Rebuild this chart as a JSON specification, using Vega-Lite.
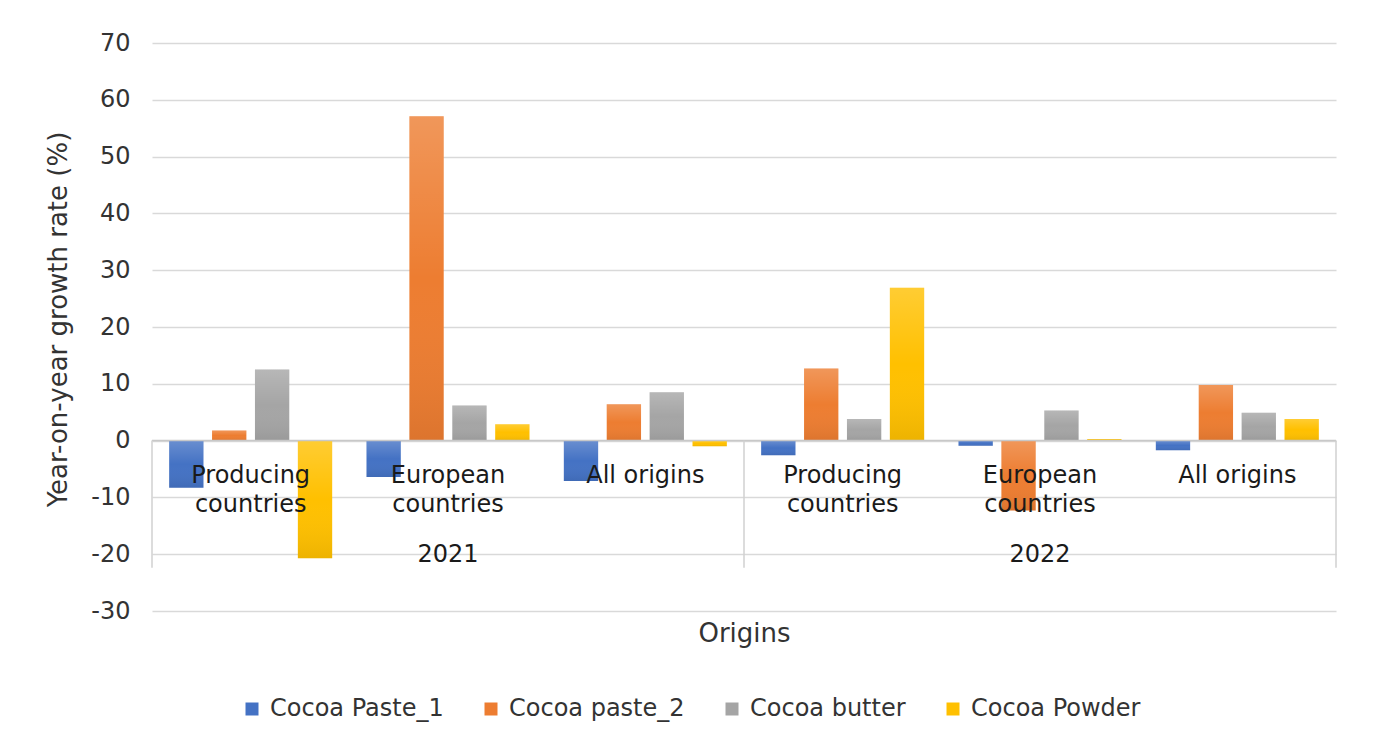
{
  "$schema": "https://vega.github.io/schema/vega-lite/v6.json",
  "width": 1184,
  "height": 568,
  "autosize": {"type": "none"},
  "padding": {"left": 152, "top": 43, "right": 37, "bottom": 136},
  "background": "white",
  "config": {
    "view": {"stroke": null},
    "font": "DejaVu Sans",
    "axis": {"labelFont": "DejaVu Sans", "titleFont": "DejaVu Sans"},
    "legend": {"labelFont": "DejaVu Sans"}
  },
  "datasets": {
    "bars": [
      {"cat": "2021|Producing countries", "series": "Cocoa Paste_1", "value": -8.3},
      {"cat": "2021|Producing countries", "series": "Cocoa paste_2", "value": 1.8},
      {"cat": "2021|Producing countries", "series": "Cocoa butter", "value": 12.5},
      {"cat": "2021|Producing countries", "series": "Cocoa Powder", "value": -20.7},
      {"cat": "2021|European countries", "series": "Cocoa Paste_1", "value": -6.4},
      {"cat": "2021|European countries", "series": "Cocoa paste_2", "value": 57.1},
      {"cat": "2021|European countries", "series": "Cocoa butter", "value": 6.2},
      {"cat": "2021|European countries", "series": "Cocoa Powder", "value": 2.9},
      {"cat": "2021|All origins", "series": "Cocoa Paste_1", "value": -7.1},
      {"cat": "2021|All origins", "series": "Cocoa paste_2", "value": 6.4},
      {"cat": "2021|All origins", "series": "Cocoa butter", "value": 8.5},
      {"cat": "2021|All origins", "series": "Cocoa Powder", "value": -1.0},
      {"cat": "2022|Producing countries", "series": "Cocoa Paste_1", "value": -2.6},
      {"cat": "2022|Producing countries", "series": "Cocoa paste_2", "value": 12.7},
      {"cat": "2022|Producing countries", "series": "Cocoa butter", "value": 3.8},
      {"cat": "2022|Producing countries", "series": "Cocoa Powder", "value": 26.9},
      {"cat": "2022|European countries", "series": "Cocoa Paste_1", "value": -0.9},
      {"cat": "2022|European countries", "series": "Cocoa paste_2", "value": -12.3},
      {"cat": "2022|European countries", "series": "Cocoa butter", "value": 5.3},
      {"cat": "2022|European countries", "series": "Cocoa Powder", "value": 0.3},
      {"cat": "2022|All origins", "series": "Cocoa Paste_1", "value": -1.7},
      {"cat": "2022|All origins", "series": "Cocoa paste_2", "value": 9.8},
      {"cat": "2022|All origins", "series": "Cocoa butter", "value": 4.9},
      {"cat": "2022|All origins", "series": "Cocoa Powder", "value": 3.8}
    ],
    "cats": [
      {"cat": "2021|Producing countries", "year": "2021", "origin": "Producing countries", "label": "Producing\ncountries"},
      {"cat": "2021|European countries", "year": "2021", "origin": "European countries", "label": "European\ncountries"},
      {"cat": "2021|All origins", "year": "2021", "origin": "All origins", "label": "All origins"},
      {"cat": "2022|Producing countries", "year": "2022", "origin": "Producing countries", "label": "Producing\ncountries"},
      {"cat": "2022|European countries", "year": "2022", "origin": "European countries", "label": "European\ncountries"},
      {"cat": "2022|All origins", "year": "2022", "origin": "All origins", "label": "All origins"}
    ]
  },
  "layer": [
    {
      "data": {"name": "bars"},
      "mark": {"type": "bar"},
      "encoding": {
        "x": {
          "field": "cat",
          "type": "nominal",
          "scale": {
            "domain": ["2021|Producing countries", "2021|European countries", "2021|All origins", "2022|Producing countries", "2022|European countries", "2022|All origins"],
            "paddingInner": 0,
            "paddingOuter": 0
          },
          "axis": {
            "labels": false,
            "ticks": false,
            "domain": false,
            "grid": false,
            "title": "Origins",
            "titleFontSize": 26,
            "titleFontWeight": "normal",
            "titleColor": "#333333",
            "titlePadding": 9
          }
        },
        "xOffset": {
          "field": "series",
          "type": "nominal",
          "scale": {
            "domain": ["Cocoa Paste_1", "Cocoa paste_2", "Cocoa butter", "Cocoa Powder"],
            "paddingInner": 0.2,
            "paddingOuter": 0.4
          }
        },
        "y": {
          "field": "value",
          "type": "quantitative",
          "scale": {"domain": [-30, 70], "nice": false, "zero": false},
          "axis": {
            "values": [-30, -20, -10, 0, 10, 20, 30, 40, 50, 60, 70],
            "labelExpr": "toString(datum.value)",
            "ticks": false,
            "domain": false,
            "grid": true,
            "gridColor": "#d9d9d9",
            "gridWidth": 1.5,
            "labelFontSize": 24,
            "labelColor": "#333333",
            "labelPadding": 22,
            "title": "Year-on-year growth rate (%)",
            "titleFontSize": 26,
            "titleFontWeight": "normal",
            "titleColor": "#333333",
            "titlePadding": 19,
            "titleY": 276
          }
        },
        "color": {
          "field": "series",
          "type": "nominal",
          "scale": {
            "domain": ["Cocoa Paste_1", "Cocoa paste_2", "Cocoa butter", "Cocoa Powder"],
            "range": ["#4472C4", "#ED7D31", "#A5A5A5", "#FFC000"]
          },
          "legend": {
            "title": null,
            "orient": "none",
            "legendX": 88,
            "legendY": 654,
            "direction": "horizontal",
            "columns": 4,
            "symbolType": "square",
            "symbolSize": 169,
            "symbolStrokeWidth": 0,
            "symbolOpacity": 1,
            "labelFontSize": 24,
            "labelColor": "#333333",
            "labelOffset": 6,
            "columnPadding": 35,
            "labelLimit": 400
          }
        }
      }
    },
    {
      "data": {"name": "bars"},
      "mark": {
        "type": "bar",
        "color": {
          "gradient": "linear",
          "x1": 0, "y1": 0, "x2": 0, "y2": 1,
          "stops": [
            {"offset": 0, "color": "rgba(255,255,255,0.2)"},
            {"offset": 0.5, "color": "rgba(255,255,255,0)"},
            {"offset": 1, "color": "rgba(0,0,0,0.07)"}
          ]
        },
        "opacity": 1
      },
      "encoding": {
        "x": {"field": "cat", "type": "nominal"},
        "xOffset": {"field": "series", "type": "nominal"},
        "y": {"field": "value", "type": "quantitative"}
      }
    },
    {
      "data": {"values": [{"line": "zero"}]},
      "mark": {"type": "rule", "color": "#c8c8c8", "strokeWidth": 1.5},
      "encoding": {"y": {"datum": 0}}
    },
    {
      "data": {"name": "cats"},
      "transform": [{"filter": "datum.origin == 'Producing countries'"}],
      "mark": {"type": "rule", "color": "#d0d0d0", "strokeWidth": 1.5},
      "encoding": {
        "x": {"field": "cat", "type": "nominal", "bandPosition": 0},
        "y": {"datum": 0},
        "y2": {"datum": -22.4}
      }
    },
    {
      "data": {"name": "cats"},
      "transform": [{"filter": "datum.cat == '2022|All origins'"}],
      "mark": {"type": "rule", "color": "#d0d0d0", "strokeWidth": 1.5},
      "encoding": {
        "x": {"field": "cat", "type": "nominal", "bandPosition": 1},
        "y": {"datum": 0},
        "y2": {"datum": -22.4}
      }
    },
    {
      "data": {"name": "cats"},
      "mark": {"type": "text", "fontSize": 24, "lineBreak": "\n", "lineHeight": 29, "baseline": "alphabetic", "dy": 42, "color": "#1a1a1a", "font": "DejaVu Sans"},
      "encoding": {
        "x": {"field": "cat", "type": "nominal"},
        "y": {"datum": 0},
        "text": {"field": "label"}
      }
    },
    {
      "data": {"name": "cats"},
      "transform": [{"filter": "datum.origin == 'European countries'"}],
      "mark": {"type": "text", "fontSize": 24, "baseline": "alphabetic", "dy": 121, "color": "#1a1a1a", "font": "DejaVu Sans"},
      "encoding": {
        "x": {"field": "cat", "type": "nominal"},
        "y": {"datum": 0},
        "text": {"field": "year"}
      }
    }
  ]
}
